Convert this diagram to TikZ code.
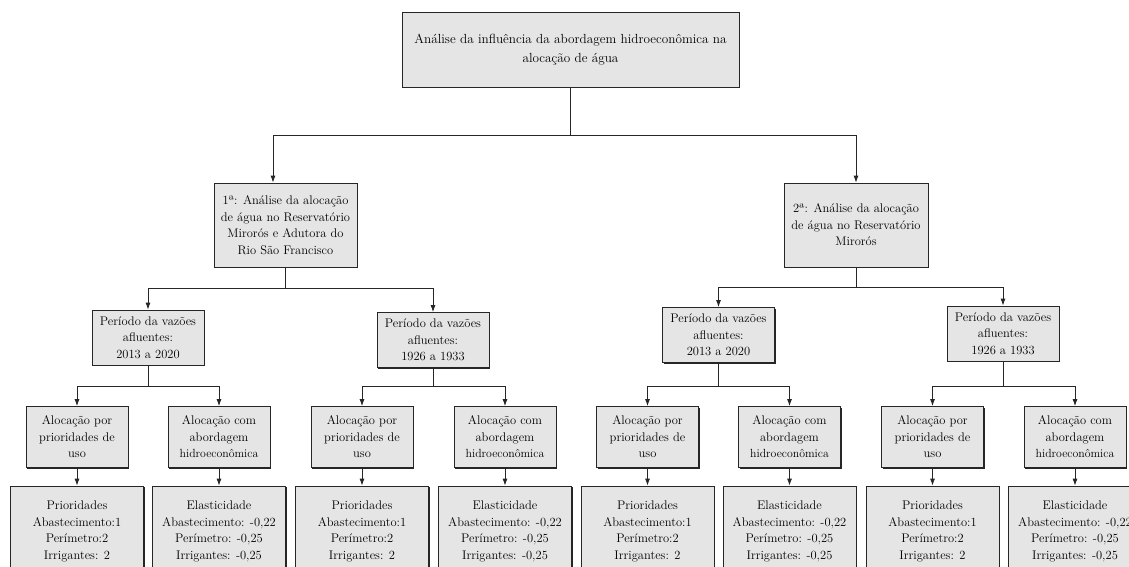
\documentclass[tikz,border=0pt]{standalone}
\usetikzlibrary{arrows.meta,shadows}

\begin{document}
\begin{tikzpicture}[x=1pt, y=-1pt,
    box/.style={draw=black!85, line width=0.8pt, fill=black!10, align=center,
        inner sep=0.5pt, font=\fontsize{12.5}{16.5}\selectfont,
        drop shadow={shadow xshift=1.1pt, shadow yshift=-1.1pt, fill=black!85, opacity=1}},
    period/.style={box, minimum width=112pt, minimum height=55pt},
    alloc/.style={box, minimum width=102pt, minimum height=61pt},
    result/.style={box, minimum width=133pt, minimum height=91pt},
    conn/.style={draw=black!85, line width=0.8pt},
    arr/.style={conn, -{Latex[length=7pt,width=5pt]}}]
    \useasboundingbox (0,0) rectangle (1129,566);
    \clip (0,0) rectangle (1129,566);

    \node[box, minimum width=337pt, minimum height=75pt, font=\fontsize{13.2}{19}\selectfont]
        (top) at (570.5,49.5) {Análise da influência da abordagem hidroeconômica na\\alocação de água};
    \node[box, minimum width=143pt, minimum height=84pt] (an1) at (285.5,225)
        {1ª: Análise da alocação\\de água no Reservatório\\Mirorós e Adutora do\\Rio São Francisco};
    \node[box, minimum width=144pt, minimum height=84pt] (an2) at (856,225)
        {2ª: Análise da alocação\\de água no Reservatório\\Mirorós};

    \node[period] (p1) at (148,337.5) {Período da vazões\\afluentes:\\2013 a 2020};
    \node[period] (p2) at (433,340) {Período da vazões\\afluentes:\\1926 a 1933};
    \node[period] (p3) at (718.5,335) {Período da vazões\\afluentes:\\2013 a 2020};
    \node[period] (p4) at (1003,333.5) {Período da vazões\\afluentes:\\1926 a 1933};

    \foreach \i/\xa/\xe in {1/77/219, 2/362/505, 3/647.5/789.5, 4/932.5/1075} {
        \node[alloc] (a\i) at (\xa,437) {Alocação por\\prioridades de\\uso};
        \node[alloc] (e\i) at (\xe,437) {Alocação com\\abordagem\\{\fontsize{11.8}{16.5}\selectfont hidroeconômica}};
        \node[result] (ra\i) at (\xa,531.5) {Prioridades\\Abastecimento:1\\Perímetro:2\\Irrigantes: 2};
        \node[result] (re\i) at (\xe,531.5) {Elasticidade\\Abastecimento: -0,22\\Perímetro: -0,25\\Irrigantes: -0,25};
        \draw[conn] (p\i.south) -- (p\i.south |- 0,386) coordinate (s\i);
        \draw[arr] (s\i) -| (a\i.north);
        \draw[arr] (s\i) -| (e\i.north);
        \draw[arr] (a\i) -- (ra\i);
        \draw[arr] (e\i) -- (re\i);
    }

    % main branches
    \coordinate (j0) at (570.5,135);
    \draw[conn] (top.south) -- (j0);
    \draw[arr] (j0) -| ([xshift=-12.5pt]an1.north);
    \draw[arr] (j0) -| (an2.north);
    \draw[conn] (an1.south) -- (an1.south |- 0,288) coordinate (j1);
    \draw[arr] (j1) -| (p1.north);
    \draw[arr] (j1) -| (p2.north);
    \draw[conn] (an2.south) -- (an2.south |- 0,287) coordinate (j2);
    \draw[arr] (j2) -| (p3.north);
    \draw[arr] (j2) -| (p4.north);
\end{tikzpicture}
\end{document}
